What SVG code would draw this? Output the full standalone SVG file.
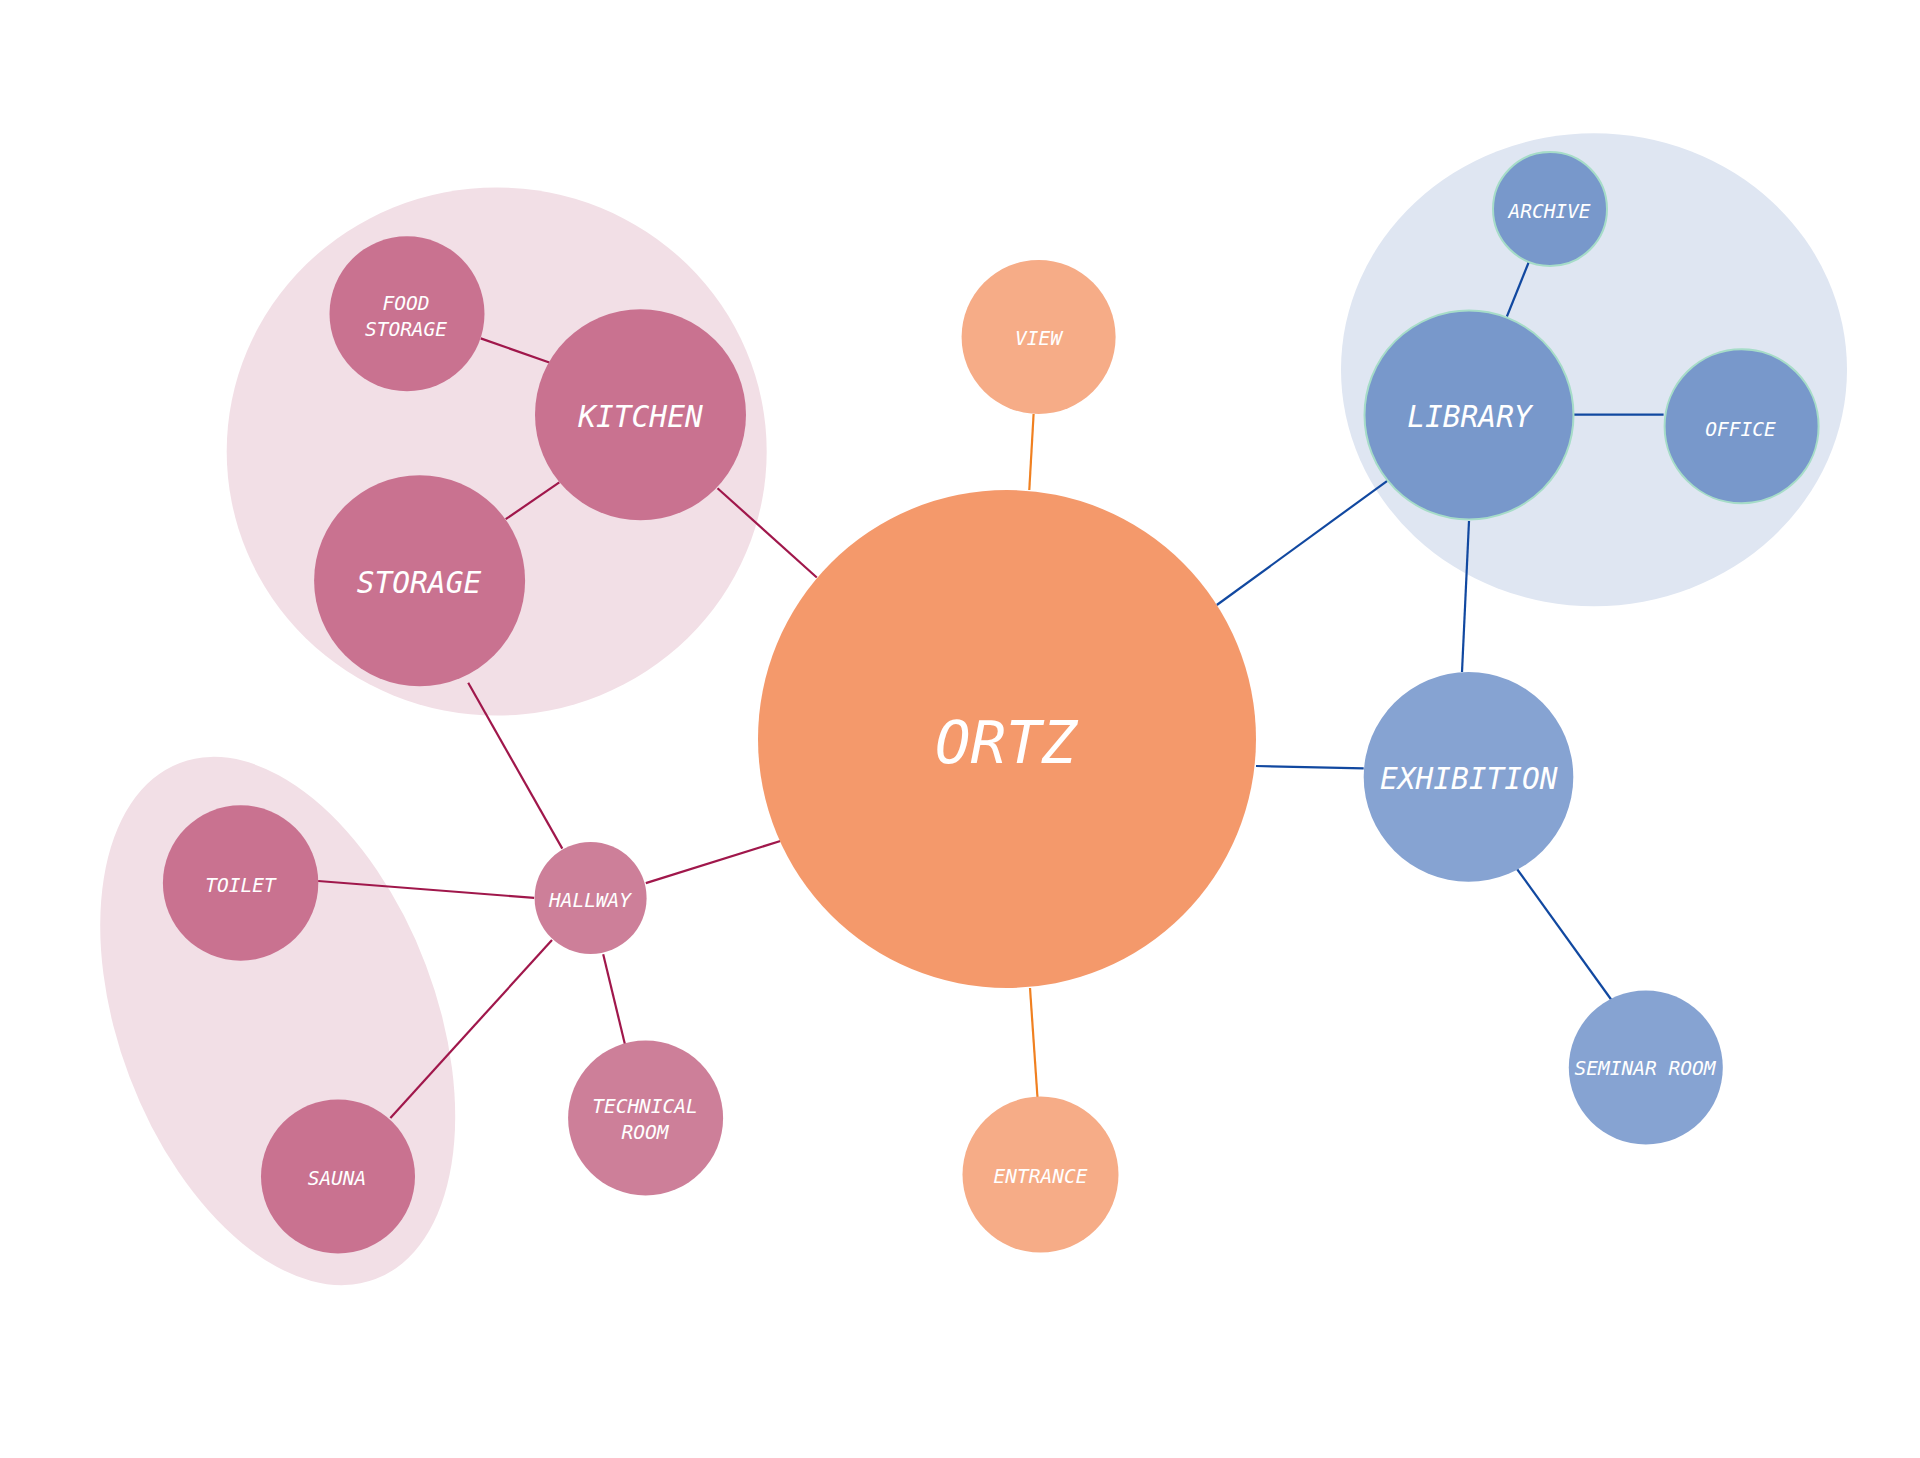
<svg xmlns="http://www.w3.org/2000/svg" width="1920" height="1458" viewBox="0 0 1920 1458">
<style>
text{font-family:"DejaVu Sans Mono","Liberation Mono",monospace;font-style:italic;fill:#ffffff;text-anchor:middle}
.s{font-size:19.5px}.m{font-size:29.5px}.l{font-size:59px}
.pk{fill:#c97290}.pl{fill:#cd7f99}
.or{fill:#f4996b}.ol{fill:#f6ac87}
.bl{fill:#7898cb;stroke:#a6dcc8;stroke-width:2}.bx{fill:#86a3d2}
.cp line{stroke:#a0174b}.co line{stroke:#f08020}.cb line{stroke:#1148a0}
#connectors line{stroke-width:2.2;fill:none}
</style>
<rect width="1920" height="1458" fill="#ffffff"/>
<g id="zones">
<ellipse cx="496.7" cy="451.5" rx="270" ry="264" fill="#f2dfe6"/>
<ellipse cx="0" cy="0" rx="158.4" ry="276" fill="#f2dfe6" transform="translate(277.7 1021) rotate(-20.75)"/>
<ellipse cx="1594" cy="369.7" rx="253" ry="236.5" fill="#dfe6f2"/>
</g>
<g id="connectors">
<g class="cp">
<line x1="480.7" y1="338.4" x2="549.3" y2="362.5"/>
<line x1="559.3" y1="482.4" x2="505.7" y2="519.2"/>
<line x1="717.5" y1="488.2" x2="816.8" y2="577.5"/>
<line x1="468.2" y1="682.8" x2="562.3" y2="848.6"/>
<line x1="318.1" y1="881" x2="534.2" y2="897.9"/>
<line x1="645.8" y1="883.1" x2="780.4" y2="841"/>
<line x1="552" y1="940" x2="390.4" y2="1118"/>
<line x1="603.2" y1="954.2" x2="625.1" y2="1045"/>
</g>
<g class="co">
<line x1="1033.6" y1="414" x2="1029.3" y2="490"/>
<line x1="1030" y1="988" x2="1037.5" y2="1097.5"/>
</g>
<g class="cb">
<line x1="1528.8" y1="262" x2="1506.9" y2="316.5"/>
<line x1="1574" y1="414.7" x2="1663.6" y2="414.7"/>
<line x1="1387.3" y1="480.8" x2="1216.8" y2="605"/>
<line x1="1469" y1="521" x2="1462" y2="672"/>
<line x1="1256" y1="766" x2="1363.7" y2="768.4"/>
<line x1="1517" y1="869" x2="1611.5" y2="1000"/>
</g>
</g>
<g id="ortz"><circle cx="1007" cy="739" r="249" class="or"/><text x="1006" y="763" class="l">ORTZ</text></g>
<g id="view"><circle cx="1038.6" cy="337" r="77" class="ol"/><text x="1038.6" y="345" class="s">VIEW</text></g>
<g id="entrance"><circle cx="1040.5" cy="1174.6" r="78" class="ol"/><text x="1040.5" y="1183" class="s">ENTRANCE</text></g>
<g id="kitchen"><circle cx="640.5" cy="414.7" r="105.5" class="pk"/><text x="640.5" y="427" class="m">KITCHEN</text></g>
<g id="food-storage"><circle cx="407" cy="313.8" r="77.5" class="pk"/><text x="406" y="310" class="s">FOOD</text><text x="406" y="336" class="s">STORAGE</text></g>
<g id="storage"><circle cx="419.6" cy="580.7" r="105.5" class="pk"/><text x="419" y="593" class="m">STORAGE</text></g>
<g id="hallway"><circle cx="590.6" cy="898" r="56" class="pl"/><text x="590" y="906.5" class="s">HALLWAY</text></g>
<g id="toilet"><circle cx="240.6" cy="883" r="77.7" class="pk"/><text x="240.5" y="891.5" class="s">TOILET</text></g>
<g id="sauna"><circle cx="338" cy="1176.5" r="77" class="pk"/><text x="337" y="1185" class="s">SAUNA</text></g>
<g id="technical-room"><circle cx="645.6" cy="1118" r="77.5" class="pl"/><text x="645" y="1113.4" class="s">TECHNICAL</text><text x="645" y="1139" class="s">ROOM</text></g>
<g id="library"><circle cx="1469" cy="415" r="104.5" class="bl"/><text x="1469.5" y="427.4" class="m">LIBRARY</text></g>
<g id="archive"><circle cx="1550" cy="209" r="57" class="bl"/><text x="1549.5" y="218" class="s">ARCHIVE</text></g>
<g id="office"><circle cx="1741.6" cy="426.2" r="77" class="bl"/><text x="1740.5" y="435.7" class="s">OFFICE</text></g>
<g id="exhibition"><circle cx="1468.5" cy="776.9" r="104.8" class="bx"/><text x="1468.8" y="788.6" class="m">EXHIBITION</text></g>
<g id="seminar-room"><circle cx="1645.8" cy="1067.5" r="77" class="bx"/><text x="1645" y="1075.2" class="s">SEMINAR ROOM</text></g>
</svg>
